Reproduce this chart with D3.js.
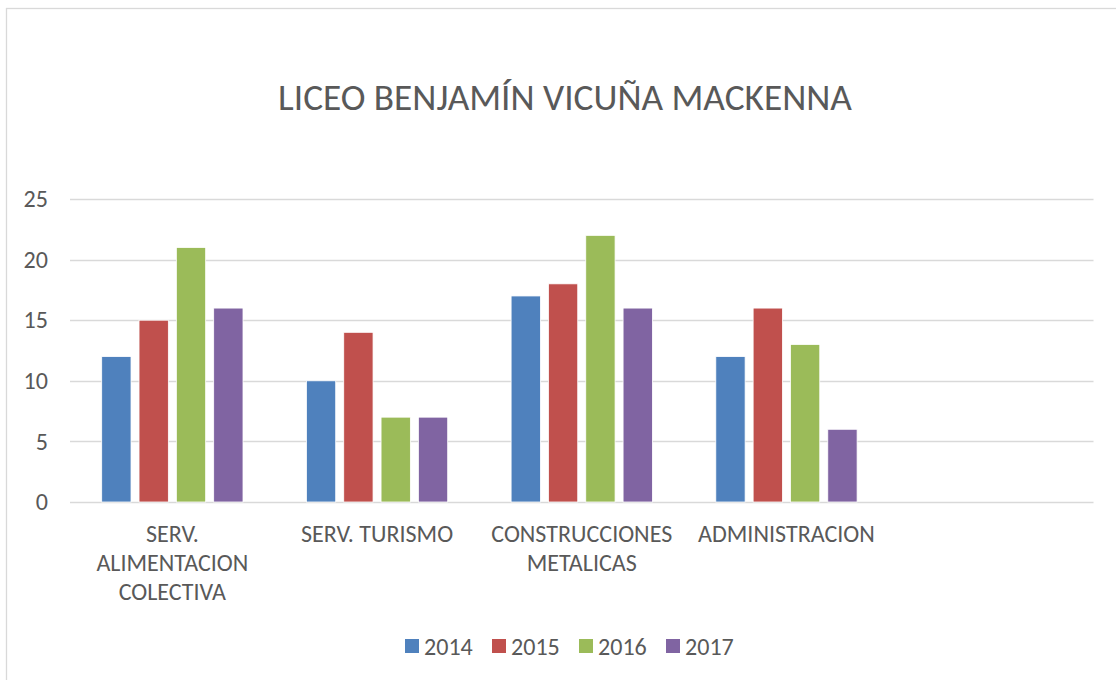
<!DOCTYPE html>
<html>
<head>
<meta charset="utf-8">
<script src="https://cdn.jsdelivr.net/npm/d3@7"></script>
<style>
  html, body { margin: 0; padding: 0; background: #fff; }
  svg { display: block; }
</style>
</head>
<body>
<svg id="chart" width="1116" height="680"></svg>
<script>
const title = "LICEO BENJAMÍN VICUÑA MACKENNA";
const categories = ["SERV. ALIMENTACION COLECTIVA", "SERV. TURISMO", "CONSTRUCCIONES METALICAS", "ADMINISTRACION"];
const years = ["2014", "2015", "2016", "2017"];
const values2014 = [12, 10, 17, 12];
const values2015 = [15, 14, 18, 16];
const values2016 = [21, 7, 22, 13];
const values2017 = [16, 7, 16, 6];
const yTicks = [0, 5, 10, 15, 20, 25];
const colors = ["#4F81BD", "#C0504D", "#9BBB59", "#8064A2"];

const seriesValues = [values2014, values2015, values2016, values2017];
const FONT = "Carlito, 'Open Sans', sans-serif";
const TEXT = "#595959";

const svg = d3.select("#chart");
svg.append("rect").attr("width", 1116).attr("height", 680).attr("fill", "#fff");
svg.append("rect").attr("x", 6.5).attr("y", 8.5).attr("width", 1120).attr("height", 690)
  .attr("fill", "none").attr("stroke", "#d9d9d9").attr("stroke-width", 1.3);

function fitSize(text, targetWidth) {
  const t = svg.append("text").attr("font-family", FONT).attr("font-size", 100).text(text);
  const w = t.node().getComputedTextLength();
  t.remove();
  return 100 * targetWidth / w;
}

const plotLeft = 70, plotRight = 1093.5, plotTop = 199, plotBottom = 502;

// Five category slots: the last one is empty, as in the original
const x0 = d3.scaleBand().domain([...categories, ""]).range([plotLeft, plotRight]).padding(0);
const groupW = 141.3;
const x1 = d3.scaleBand().domain(years)
  .range([(x0.bandwidth() - groupW) / 2, (x0.bandwidth() + groupW) / 2])
  .paddingInner(0.2145).paddingOuter(0);
const y = d3.scaleLinear().domain([0, 25]).range([plotBottom, plotTop]);

const labelSize = fitSize("ALIMENTACION", 152);

// gridlines
svg.append("g").selectAll("line").data(yTicks).join("line")
  .attr("x1", plotLeft).attr("x2", plotRight)
  .attr("y1", d => Math.round(y(d)) + 0.5).attr("y2", d => Math.round(y(d)) + 0.5)
  .attr("stroke", "#d9d9d9").attr("stroke-width", 1.3);

// y axis labels
const yAxis = d3.axisLeft(y).tickValues(yTicks).tickSize(0).tickPadding(0);
const gy = svg.append("g").attr("transform", "translate(48,0)").call(yAxis);
gy.select(".domain").remove();
gy.selectAll("text").attr("font-family", FONT).attr("font-size", labelSize).attr("fill", TEXT);

// bars
const groups = svg.append("g").selectAll("g").data(categories).join("g")
  .attr("transform", d => `translate(${x0(d)},0)`);
groups.selectAll("rect").data((d, i) => years.map((yr, s) => ({ yr, s, v: seriesValues[s][i] })))
  .join("rect")
  .attr("x", d => x1(d.yr)).attr("width", x1.bandwidth())
  .attr("y", d => y(d.v)).attr("height", d => y(0) - y(d.v))
  .attr("fill", d => colors[d.s])
  .attr("stroke", "#fff").attr("stroke-width", 0.8);

// category labels with wrapping
function wrapWords(text, maxW) {
  const words = text.split(" ");
  const lines = [];
  let cur = "";
  const t = svg.append("text").attr("font-family", FONT).attr("font-size", labelSize);
  words.forEach(w => {
    const test = cur ? cur + " " + w : w;
    t.text(test);
    if (t.node().getComputedTextLength() > maxW && cur) { lines.push(cur); cur = w; }
    else cur = test;
  });
  if (cur) lines.push(cur);
  t.remove();
  return lines;
}
const catLabels = svg.append("g").selectAll("text").data(categories).join("text")
  .attr("font-family", FONT).attr("font-size", labelSize).attr("fill", TEXT)
  .attr("text-anchor", "middle")
  .attr("x", d => x0(d) + x0.bandwidth() / 2)
  .attr("y", 533);
catLabels.each(function(d) {
  const lines = wrapWords(d, 195);
  d3.select(this).selectAll("tspan").data(lines).join("tspan")
    .attr("x", x0(d) + x0.bandwidth() / 2)
    .attr("y", (l, i) => 533 + i * 29.3)
    .attr("dominant-baseline", "central")
    .text(l => l);
});

// title
const titleSize = fitSize(title, 574);
svg.append("text").attr("x", 565).attr("y", 110)
  .attr("text-anchor", "middle").attr("font-family", FONT).attr("font-size", titleSize)
  .attr("fill", TEXT).text(title);

// legend
const legendX = d3.scalePoint().domain(years).range([405, 666]);
const lg = svg.append("g").selectAll("g").data(years).join("g")
  .attr("transform", d => `translate(${legendX(d)},639)`);
lg.append("rect").attr("width", 14).attr("height", 14).attr("fill", (d, i) => colors[i]);
lg.append("text").attr("x", 19).attr("y", 7.5).attr("dominant-baseline", "central")
  .attr("font-family", FONT).attr("font-size", labelSize).attr("fill", TEXT).text(d => d);
</script>
</body>
</html>
